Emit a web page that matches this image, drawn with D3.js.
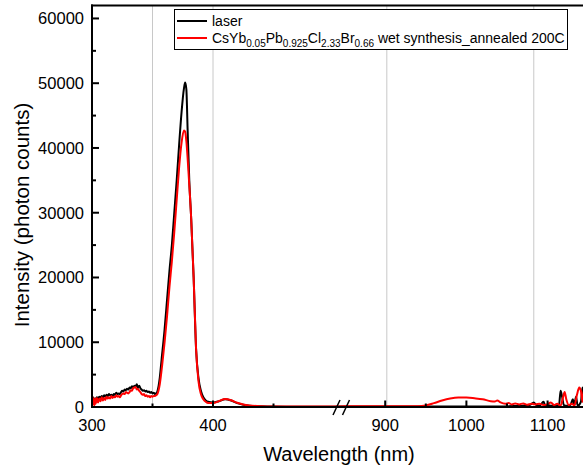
<!DOCTYPE html>
<html><head><meta charset="utf-8">
<script src="https://cdn.jsdelivr.net/npm/d3@7/dist/d3.min.js"></script>
<style>
html,body{margin:0;padding:0;background:#fff;}
svg{display:block;font-family:"Liberation Sans",Arial,sans-serif;}
</style></head>
<body><svg id="chart" width="583" height="472"></svg>
<script>
// ---------- data ----------
const laserWl = [300,300.8,301.5,302.3,303,304,305,306,307,308,309,310,311,312,313,314,315,316,317,318,319,320,321,322,323,324,325,326,327,328,329,330,331,332,333,334,335,336,337,338,339,340,341,342,343,344,345,346,347,348,349,350,351,352,353,354,356,357.5,360,362,364,366,368,370,372,374,376,377,378,379,380.4,382,384,386,388,390,392,394,396,400,405,410,415,420,425,430,440,450,470,500,
  850,900,950,1000,1040,1060,1070,1078,1083,1086,1090,1095,1097,1100,1105,1110,1114,1116,1118,1120,1124,1128,1131,1133,1135,1137,1141,1143,1145,1150];
const laserCounts = [600,1500,900,1300,1100,1500,1300,1600,1400,1700,1500,1800,1600,1900,1700,2000,1800,1900,1700,2000,1900,2200,2000,2100,2000,2300,2500,2400,2700,2600,2800,2700,3000,2900,3200,3000,3300,3200,3500,3000,3300,2900,2700,2500,2600,2400,2500,2300,2400,2200,2300,2100,2200,2000,2100,2400,4500,7300,12000,16500,21000,25000,30000,35000,40500,45500,49200,50100,49000,43000,35000,29000,20000,9000,4500,2500,1500,1000,800,700,900,1200,1000,600,350,200,100,60,50,50,
  80,60,60,60,80,150,200,300,700,300,200,800,250,300,200,300,200,2500,1500,300,200,300,1200,300,1600,200,800,3000,1000,800];
const sampleWl = [300,300.5,301,301.5,302,302.5,303,304,305,306,307,308,309,310,311,312,313,314,315,316,317,318,319,320,321,322,323,324,325,326,327,328,329,330,331,332,333,334,335,336,337,338,339,340,341,342,343,344,345,346,347,348,349,350,351,352,353,354,356,358,360,362,364,366,368,370,372,374,376,377,378,379,380,382,384,386,388,390,392,394,396,400,405,410,415,420,425,430,440,450,470,500,
  850,900,940,950,960,970,980,990,1000,1010,1020,1030,1035,1038,1042,1048,1052,1056,1060,1065,1070,1075,1080,1085,1090,1095,1100,1104,1108,1112,1116,1119,1121,1123,1126,1130,1133,1136,1139,1141,1143,1145,1150];
const sampleCounts = [300,1600,400,1200,300,1300,500,1400,700,1300,900,1500,1000,1400,1100,1600,1300,1500,1300,1700,1400,1600,1500,1800,1600,1700,1500,1800,2000,2100,2000,2300,2200,2100,2300,2600,2500,2900,3000,3100,2700,2800,2500,2300,2000,1900,2000,1700,1800,1600,1700,1500,1700,1600,1700,1700,1800,2000,3500,6500,10000,14000,18500,22500,27000,32000,37000,40800,42700,42500,41000,38500,35500,29000,20000,9000,4000,2000,1200,800,600,600,900,1250,1050,650,400,250,120,80,60,60,
  100,100,120,250,600,1000,1300,1450,1450,1350,1200,900,850,1000,700,500,600,400,550,400,550,350,500,400,500,300,450,700,300,500,200,1500,2300,1200,300,500,200,1800,3000,2500,800,2800,1000];
const xTickMajor = [300,400,900,1000,1100];
const xTickMinor = [350,450,950,1050];
const xGrid = [350,400,902,1083];
const yTickMajor = [0,10000,20000,30000,40000,50000,60000];
const yTickMinor = [5000,15000,25000,35000,45000,55000];
const seriesNames = ["laser","CsYb0.05Pb0.925Cl2.33Br0.66 wet synthesis_annealed 200C"];

// ---------- layout ----------
const svg = d3.select("#chart");
const L = 92, T = 5.5, B = 407;
const x = d3.scaleLinear().domain([300,500,850,1150]).range([L,334,344.6,588.2]);
const y = d3.scaleLinear().domain([0,62000]).range([B,T]);
const font = "Liberation Sans, Arial, sans-serif";

// gridlines
svg.append("g").selectAll("line").data(xGrid).join("line")
  .attr("x1",d=>x(d)).attr("x2",d=>x(d)).attr("y1",T).attr("y2",B)
  .attr("stroke","#c8c8c8").attr("stroke-width",1);

// clip
svg.append("clipPath").attr("id","clip").append("rect")
  .attr("x",L).attr("y",T).attr("width",600).attr("height",B-T);

const line = d3.line().x(d=>x(d[0])).y(d=>y(d[1])).curve(d3.curveMonotoneX);
const g = svg.append("g").attr("clip-path","url(#clip)");
g.append("path").datum(laserWl.map((w,i)=>[w,laserCounts[i]]))
  .attr("d",line).attr("fill","none").attr("stroke","#000").attr("stroke-width",2).attr("stroke-linejoin","round");
g.append("path").datum(sampleWl.map((w,i)=>[w,sampleCounts[i]]))
  .attr("d",line).attr("fill","none").attr("stroke","#ff0000").attr("stroke-width",2).attr("stroke-linejoin","round");

// axes frame
svg.append("line").attr("x1",L).attr("x2",L).attr("y1",T-1).attr("y2",B+1).attr("stroke","#000").attr("stroke-width",2);
svg.append("line").attr("x1",L-1).attr("x2",600).attr("y1",B).attr("y2",B).attr("stroke","#000").attr("stroke-width",2);
svg.append("line").attr("x1",L-1).attr("x2",600).attr("y1",T).attr("y2",T).attr("stroke","#000").attr("stroke-width",2);

// x ticks (inward)
const xt = svg.append("g");
xt.selectAll(".maj").data(xTickMajor).join("line")
  .attr("x1",d=>x(d)).attr("x2",d=>x(d)).attr("y1",B).attr("y2",B-6.5).attr("stroke","#000").attr("stroke-width",2);
xt.selectAll(".min").data(xTickMinor).join("line")
  .attr("x1",d=>x(d)).attr("x2",d=>x(d)).attr("y1",B).attr("y2",B-3.5).attr("stroke","#000").attr("stroke-width",2);
xt.selectAll("text").data(xTickMajor).join("text")
  .attr("x",d=>x(d)).attr("y",431).attr("text-anchor","middle")
  .attr("font-size",16.5).attr("fill","#000").text(d=>d);

// y ticks
const yt = svg.append("g");
yt.selectAll(".maj").data(yTickMajor).join("line")
  .attr("x1",L).attr("x2",L+7).attr("y1",d=>y(d)).attr("y2",d=>y(d)).attr("stroke","#000").attr("stroke-width",2);
yt.selectAll(".min").data(yTickMinor).join("line")
  .attr("x1",L).attr("x2",L+4).attr("y1",d=>y(d)).attr("y2",d=>y(d)).attr("stroke","#000").attr("stroke-width",2);
yt.selectAll("text").data(yTickMajor).join("text")
  .attr("x",84).attr("y",d=>y(d)+6).attr("text-anchor","end")
  .attr("font-size",16.5).attr("fill","#000").text(d=>d);

// axis break marks
const bx = [336.5,346];
svg.append("g").selectAll("line").data(bx).join("line")
  .attr("x1",d=>d-3.5).attr("y1",B+8).attr("x2",d=>d+3.5).attr("y2",B-7)
  .attr("stroke","#000").attr("stroke-width",1.5);

// titles
svg.append("text").attr("x",339).attr("y",461).attr("text-anchor","middle")
  .attr("font-size",20).attr("fill","#000").text("Wavelength (nm)");
svg.append("text").attr("transform","translate(29,215) rotate(-90)").attr("text-anchor","middle")
  .attr("font-size",20.5).attr("fill","#000").text("Intensity (photon counts)");

// legend
const lg = svg.append("g");
lg.append("rect").attr("x",174.5).attr("y",9.5).attr("width",393).attr("height",40)
  .attr("fill","#fff").attr("stroke","#000").attr("stroke-width",1);
lg.append("line").attr("x1",177).attr("x2",207).attr("y1",21).attr("y2",21).attr("stroke","#000").attr("stroke-width",2);
lg.append("line").attr("x1",177).attr("x2",207).attr("y1",38).attr("y2",38).attr("stroke","#ff0000").attr("stroke-width",2);
lg.append("text").attr("x",212).attr("y",26).attr("font-size",14).attr("fill","#000").text(seriesNames[0]);
const t2 = lg.append("text").attr("x",212).attr("y",43).attr("font-size",14).attr("fill","#000");
const parts = [["CsYb",0],["0.05",1],["Pb",0],["0.925",1],["Cl",0],["2.33",1],["Br",0],["0.66",1],[" wet synthesis_annealed 200C",0]];
let prevSub = 0;
parts.forEach(([s,sub])=>{
  const dy = sub && !prevSub ? 4 : (!sub && prevSub ? -4 : 0);
  t2.append("tspan").attr("dy",dy).attr("font-size",sub?10:14).text(s);
  prevSub = sub;
});
</script></body></html>
